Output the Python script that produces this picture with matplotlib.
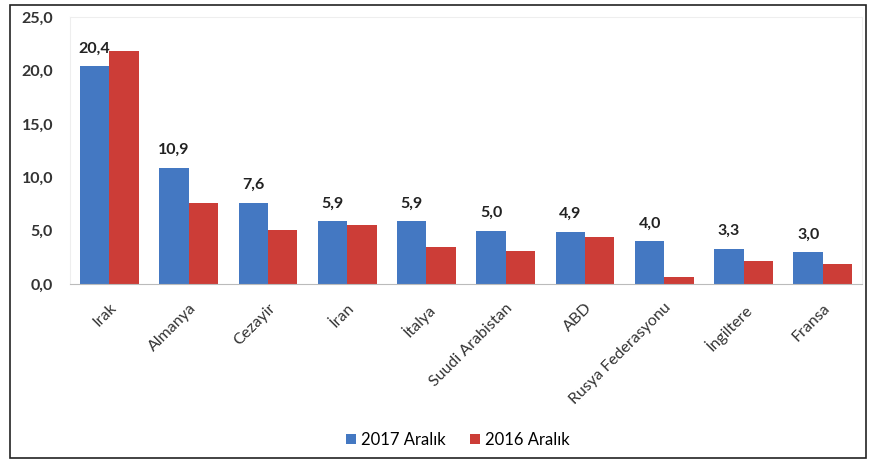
import matplotlib
matplotlib.use("Agg")
import matplotlib.pyplot as plt
import matplotlib.patches as mpatches
import numpy as np

plt.rcParams['font.family'] = ['Lato', 'DejaVu Sans']

countries = ["Irak", "Almanya", "Cezayir", "İran", "İtalya", "Suudi Arabistan",
             "ABD", "Rusya Federasyonu", "İngiltere", "Fransa"]
y2017 = [20.4, 10.9, 7.6, 5.9, 5.9, 5.0, 4.9, 4.0, 3.3, 3.0]
y2016 = [21.8, 7.6, 5.1, 5.5, 3.5, 3.1, 4.4, 0.7, 2.2, 1.9]
yticks = [0, 5, 10, 15, 20, 25]

blue = "#4478c2"
red = "#cc3d37"

fig = plt.figure(figsize=(8.72, 4.62), dpi=100)
ax = fig.add_axes([0.080, 0.385, 0.909, 0.578])

x = np.arange(len(countries))
w = 0.37
ax.bar(x - w / 2, y2017, w, color=blue, label="2017 Aralık")
ax.bar(x + w / 2, y2016, w, color=red, label="2016 Aralık")

for xi, v in zip(x, y2017):
    ax.text(xi - w / 2, v + 1.0, f"{v:.1f}".replace(".", ","), ha="center", va="bottom",
            fontsize=11.5, fontweight="bold", color="#222222")

ax.set_xlim(-0.5, len(countries) - 0.5)
ax.set_ylim(0, 25)
ax.set_yticks(yticks)
ax.set_yticklabels([f"{t:.1f}".replace(".", ",") for t in yticks],
                   fontsize=11.5, fontweight="bold", color="#333333")
ax.set_xticks(x)
ax.set_xticklabels(countries, rotation=45, ha="right", rotation_mode="anchor",
                   fontsize=11.5, color="#333333")
ax.tick_params(axis="both", length=0)
ax.tick_params(axis="y", pad=12)
ax.tick_params(axis="x", pad=12)

for s in ["left", "right", "top"]:
    ax.spines[s].set_color("#eeeeee")
ax.spines["bottom"].set_color("#bbbbbb")

fig.legend(loc="center", bbox_to_anchor=(0.525, 0.048), ncol=2, frameon=False,
           fontsize=12, handlelength=0.6, handleheight=0.6, columnspacing=1.5,
           handletextpad=0.3)

fig.patches.append(mpatches.Rectangle((10 / 872, 4 / 462), 856 / 872, 453 / 462,
                                      transform=fig.transFigure, fill=False,
                                      edgecolor="#222222", linewidth=1.2))

fig.savefig("out.png", dpi=100)
